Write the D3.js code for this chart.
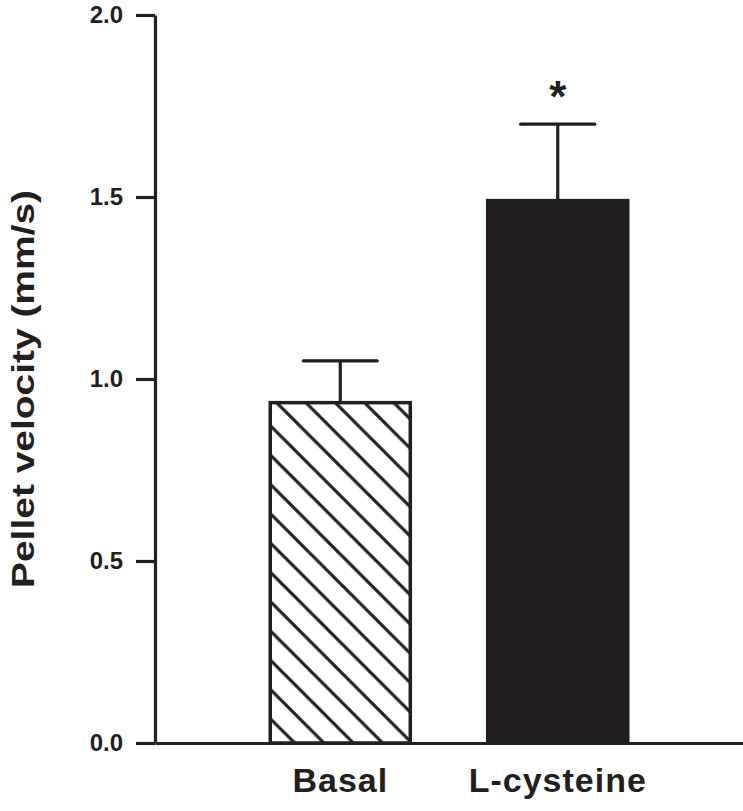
<!DOCTYPE html>
<html>
<head>
<meta charset="utf-8">
<script src="https://cdn.jsdelivr.net/npm/d3@7"></script>
<style>
  body { margin: 0; background: #fff; }
  svg { display: block; font-family: "Liberation Sans", Arial, sans-serif; font-weight: bold; }
</style>
</head>
<body>
<svg width="743" height="811"></svg>
<script>
// values
var groups = ['Basal', 'L-cysteine'];
var means = [0.935, 1.49];
var sems = [0.115, 0.21];
var marks = ['', '*'];
var yTicks = [0, 0.5, 1.0, 1.5, 2.0];

var ink = '#231f20';
var svg = d3.select('svg');

var margin = { top: 15, left: 155, right: 0, bottom: 68 };
var width = 743, height = 811;

var y = d3.scaleLinear()
    .domain([0, 2])
    .range([height - margin.bottom, margin.top]);

var x = d3.scaleBand()
    .domain(groups)
    .range([margin.left, width - margin.right])
    .paddingInner(0.356)
    .paddingOuter(0.53);

// hatch for the basal bar
var hw = 29.3;
svg.append('defs').append('pattern')
    .attr('id', 'hatch')
    .attr('patternUnits', 'userSpaceOnUse')
    .attr('x', 20.5)
    .attr('width', hw)
    .attr('height', hw)
    .append('path')
    .attr('d', 'M-2,' + (hw - 2) + 'l4,4 M0,0 l' + hw + ',' + hw + ' M' + (hw - 2) + ',-2 l4,4')
    .attr('stroke', ink)
    .attr('stroke-width', 3.2);

// error bars first so the bar outline sits over the stem
var err = svg.append('g').attr('stroke', ink).attr('stroke-width', 3.2);
groups.forEach(function (g, i) {
    var cx = x(g) + x.bandwidth() / 2;
    err.append('line')
        .attr('x1', cx).attr('x2', cx)
        .attr('y1', y(means[i])).attr('y2', y(means[i] + sems[i]));
    err.append('line')
        .attr('x1', cx - 37).attr('x2', cx + 37)
        .attr('y1', y(means[i] + sems[i])).attr('y2', y(means[i] + sems[i]))
        .attr('stroke-linecap', 'round');
});

svg.append('g').selectAll('rect')
    .data(groups)
    .enter().append('rect')
    .attr('x', d => x(d))
    .attr('y', (d, i) => y(means[i]))
    .attr('width', x.bandwidth())
    .attr('height', (d, i) => y(0) - y(means[i]))
    .attr('fill', (d, i) => i === 0 ? 'url(#hatch)' : ink)
    .attr('stroke', ink)
    .attr('stroke-width', 3.5)
    .attr('stroke-linecap', 'square');

// significance star
svg.append('g').selectAll('text')
    .data(groups)
    .enter().append('text')
    .attr('x', d => x(d) + x.bandwidth() / 2)
    .attr('y', (d, i) => y(means[i] + sems[i]) - 12)
    .attr('text-anchor', 'middle')
    .attr('font-size', 44)
    .attr('fill', ink)
    .text((d, i) => marks[i]);

// axes
var yAxis = d3.axisLeft(y)
    .tickValues(yTicks)
    .tickFormat(d3.format('.1f'))
    .tickSize(19)
    .tickSizeOuter(0)
    .tickPadding(13);

var gy = svg.append('g')
    .attr('transform', 'translate(' + margin.left + ',0)')
    .call(yAxis);

var xAxis = d3.axisBottom(x)
    .tickSize(0)
    .tickSizeOuter(0)
    .tickPadding(25);

var gx = svg.append('g')
    .attr('transform', 'translate(0,' + y(0) + ')')
    .call(xAxis);

[gy, gx].forEach(function (g) {
    g.attr('font-family', null).attr('font-size', null);
    g.selectAll('.domain, line').attr('stroke', ink).attr('stroke-width', 3.2);
    g.selectAll('text').attr('fill', ink);
});
gy.selectAll('text').attr('font-size', 24);
gx.selectAll('text').attr('font-size', 34).attr('letter-spacing', 1);

svg.append('text')
    .attr('transform', 'translate(34,' + 389 + ') rotate(-90)')
    .attr('text-anchor', 'middle')
    .attr('font-size', 32)
    .attr('textLength', 398)
    .attr('lengthAdjust', 'spacingAndGlyphs')
    .attr('fill', ink)
    .text('Pellet velocity (mm/s)');
</script>
</body>
</html>
